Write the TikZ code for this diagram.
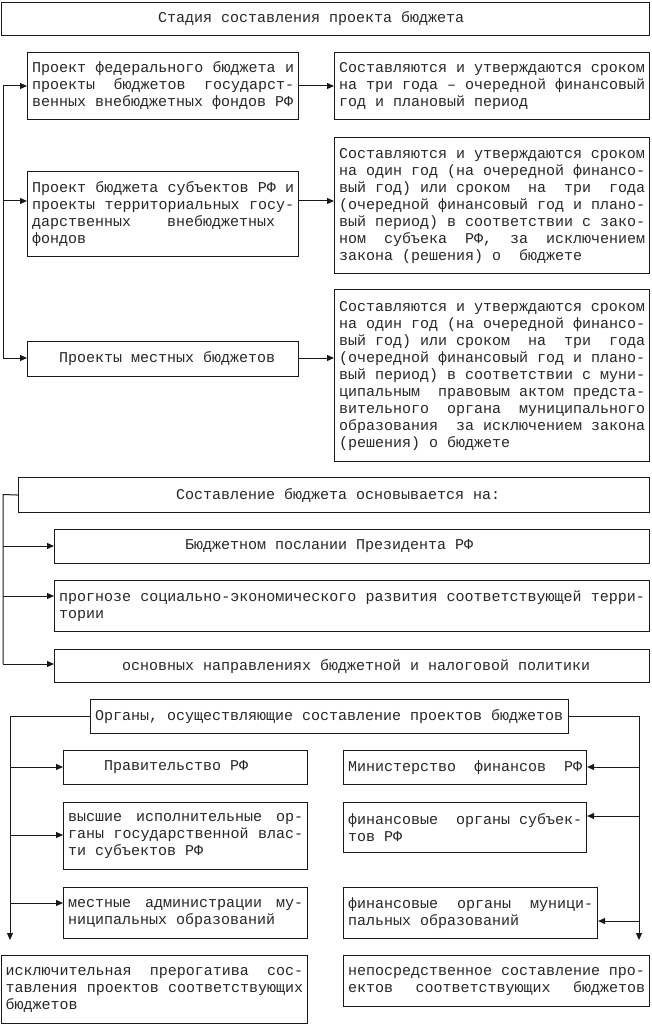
\documentclass[tikz,border=0pt]{standalone}
\usepackage{fontspec}
\newfontfamily\cour{Liberation Mono}
\usetikzlibrary{arrows.meta}
\newcommand{\jl}[1]{\makebox[\hsize][s]{#1}}
\newcommand{\boxfont}{\cour\fontsize{15}{17}\selectfont\fontdimen3\font=6pt\relax\fontdimen4\font=1pt\relax\frenchspacing}
\tikzset{
  bx/.style={draw=black!90, line width=1.1pt, anchor=north west, inner xsep=4.5pt, inner ysep=0pt,
    align=flush left, font=\boxfont, text=black!85},
  ln/.style={draw=black!90, line width=1pt},
  arr/.style={ln, -{Triangle[length=7pt,width=6pt]}}
}
\begin{document}
\begin{tikzpicture}[x=1pt,y=-1pt]
\useasboundingbox (0,0) rectangle (651,1024);
% ---- section 1
\node[bx, text width=639pt, minimum height=33pt] (top) at (1,2) {\hspace*{152pt}Стадия составления проекта бюджета};
\node[bx, text width=262pt, minimum height=67pt] (b1L) at (27,52) {\jl{Проект федерального бюджета и}\\\jl{проекты бюджетов государст-}\\венных внебюджетных фондов РФ};
\node[bx, text width=306pt, minimum height=67pt] (b1R) at (334,52) {\jl{Составляются и утверждаются сроком}\\\jl{на три года – очередной финансовый}\\год и плановый период};
\node[bx, text width=262pt, minimum height=85pt] (b2L) at (27,171) {\jl{Проект бюджета субъектов РФ и}\\\jl{проекты территориальных госу-}\\дарственных\ \ \ \ внебюджетных\\фондов};
\node[bx, text width=306pt, minimum height=136pt] (b2R) at (334,137) {\jl{Составляются и утверждаются сроком}\\\jl{на один год (на очередной финансо-}\\\jl{вый год) или сроком\ \ на\ \ три\ \ года}\\\jl{(очередной финансовый год и плано-}\\\jl{вый период) в соответствии с зако-}\\\jl{ном субъека РФ, за исключением}\\закона (решения) о\ \ бюджете};
\node[bx, text width=262pt, minimum height=35pt] (b3L) at (27,341) {\hspace*{27pt}Проекты местных бюджетов};
\node[bx, text width=306pt, minimum height=172pt] (b3R) at (334,289) {\jl{Составляются и утверждаются сроком}\\\jl{на один год (на очередной финансо-}\\\jl{вый год) или сроком\ \ на\ \ три\ \ года}\\\jl{(очередной финансовый год и плано-}\\\jl{вый период) в соответствии с муни-}\\\jl{ципальным\ \ правовым актом предста-}\\\jl{вительного органа муниципального}\\\jl{образования\ \ за исключением закона}\\(решения) о бюджете};
\coordinate (t1) at (3,86);
\coordinate (t2) at (3,201);
\coordinate (t3) at (3,358);
\draw[ln] (t1) -- (t3);
\draw[arr] (t1) -- (t1 -| b1L.west);
\draw[arr] (t2) -- (t2 -| b2L.west);
\draw[arr] (t3) -- (t3 -| b3L.west);
\draw[arr] (t1 -| b1L.east) -- (t1 -| b1R.west);
\draw[arr] (t2 -| b2L.east) -- (t2 -| b2R.west);
\draw[arr] (t3 -| b3L.east) -- (t3 -| b3R.west);
% ---- section 2
\node[bx, text width=622pt, minimum height=35pt] (S) at (18,477) {\hspace*{153pt}Составление бюджета основывается на:};
\node[bx, text width=586pt, minimum height=34pt] (S1) at (54,529) {\hspace*{126pt}Бюджетном послании Президента РФ};
\node[bx, text width=586pt, minimum height=51pt] (S2) at (54,580) {\jl{прогнозе социально-экономического развития соответствующей терри-}\\тории};
\node[bx, text width=586pt, minimum height=33pt] (S3) at (54,649) {\hspace*{63pt}основных направлениях бюджетной и налоговой политики};
\coordinate (u0) at (3,494.5);
\coordinate (u1) at (3,546);
\coordinate (u2) at (3,596);
\coordinate (u3) at (3,664);
\draw[ln] (S.west) -- (u0) -- (u3);
\draw[arr] (u1) -- (u1 -| S1.west);
\draw[arr] (u2) -- (u2 -| S2.west);
\draw[arr] (u3) -- (u3 -| S3.west);
% ---- section 3
\node[bx, text width=469pt, minimum height=34pt] (O) at (90,699) {Органы, осуществляющие составление проектов бюджетов};
\node[bx, text width=235pt, minimum height=34pt] (P) at (63,750) {\hspace*{36pt}Правительство РФ};
\node[bx, text width=234pt, minimum height=34pt] (Mn) at (343,750) {\jl{Министерство финансов РФ}};
\node[bx, text width=235pt, minimum height=67pt] (V) at (63,802) {\jl{высшие исполнительные ор-}\\\jl{ганы государственной влас-}\\ти субъектов РФ};
\node[bx, text width=234pt, minimum height=50pt] (FS) at (343,802) {\jl{финансовые\ \ органы субъек-}\\тов РФ};
\node[bx, text width=235pt, minimum height=51pt] (M) at (63,887) {\jl{местные администрации му-}\\ниципальных образований};
\node[bx, text width=245pt, minimum height=51pt] (FM) at (343,887) {\jl{финансовые органы муници-}\\пальных образований};
\node[bx, text width=297.5pt, minimum height=68pt] (BL) at (0.6,955) {\jl{исключительная прерогатива сос-}\\\jl{тавления проектов соответствующих}\\бюджетов};
\node[bx, text width=297pt, minimum height=51pt] (BR) at (343,955) {\jl{непосредственное составление про-}\\\jl{ектов соответствующих бюджетов}};
\coordinate (l1) at (10,767);
\coordinate (l2) at (10,835);
\coordinate (l3) at (10,903);
\coordinate (l4) at (10,940);
\coordinate (r1) at (639,767);
\coordinate (r2) at (639,816);
\coordinate (r3) at (639,921);
\coordinate (r4) at (639,940);
\draw[arr] (O.west) -- (O.west -| l4) -- (l4);
\draw[arr] (O.east) -- (O.east -| r4) -- (r4);
\draw[arr] (l1) -- (l1 -| P.west);
\draw[arr] (l2) -- (l2 -| V.west);
\draw[arr] (l3) -- (l3 -| M.west);
\draw[arr] (r1) -- (r1 -| Mn.east);
\draw[arr] (r2) -- (r2 -| FS.east);
\draw[arr] (r3) -- (r3 -| FM.east);
\end{tikzpicture}
\end{document}
